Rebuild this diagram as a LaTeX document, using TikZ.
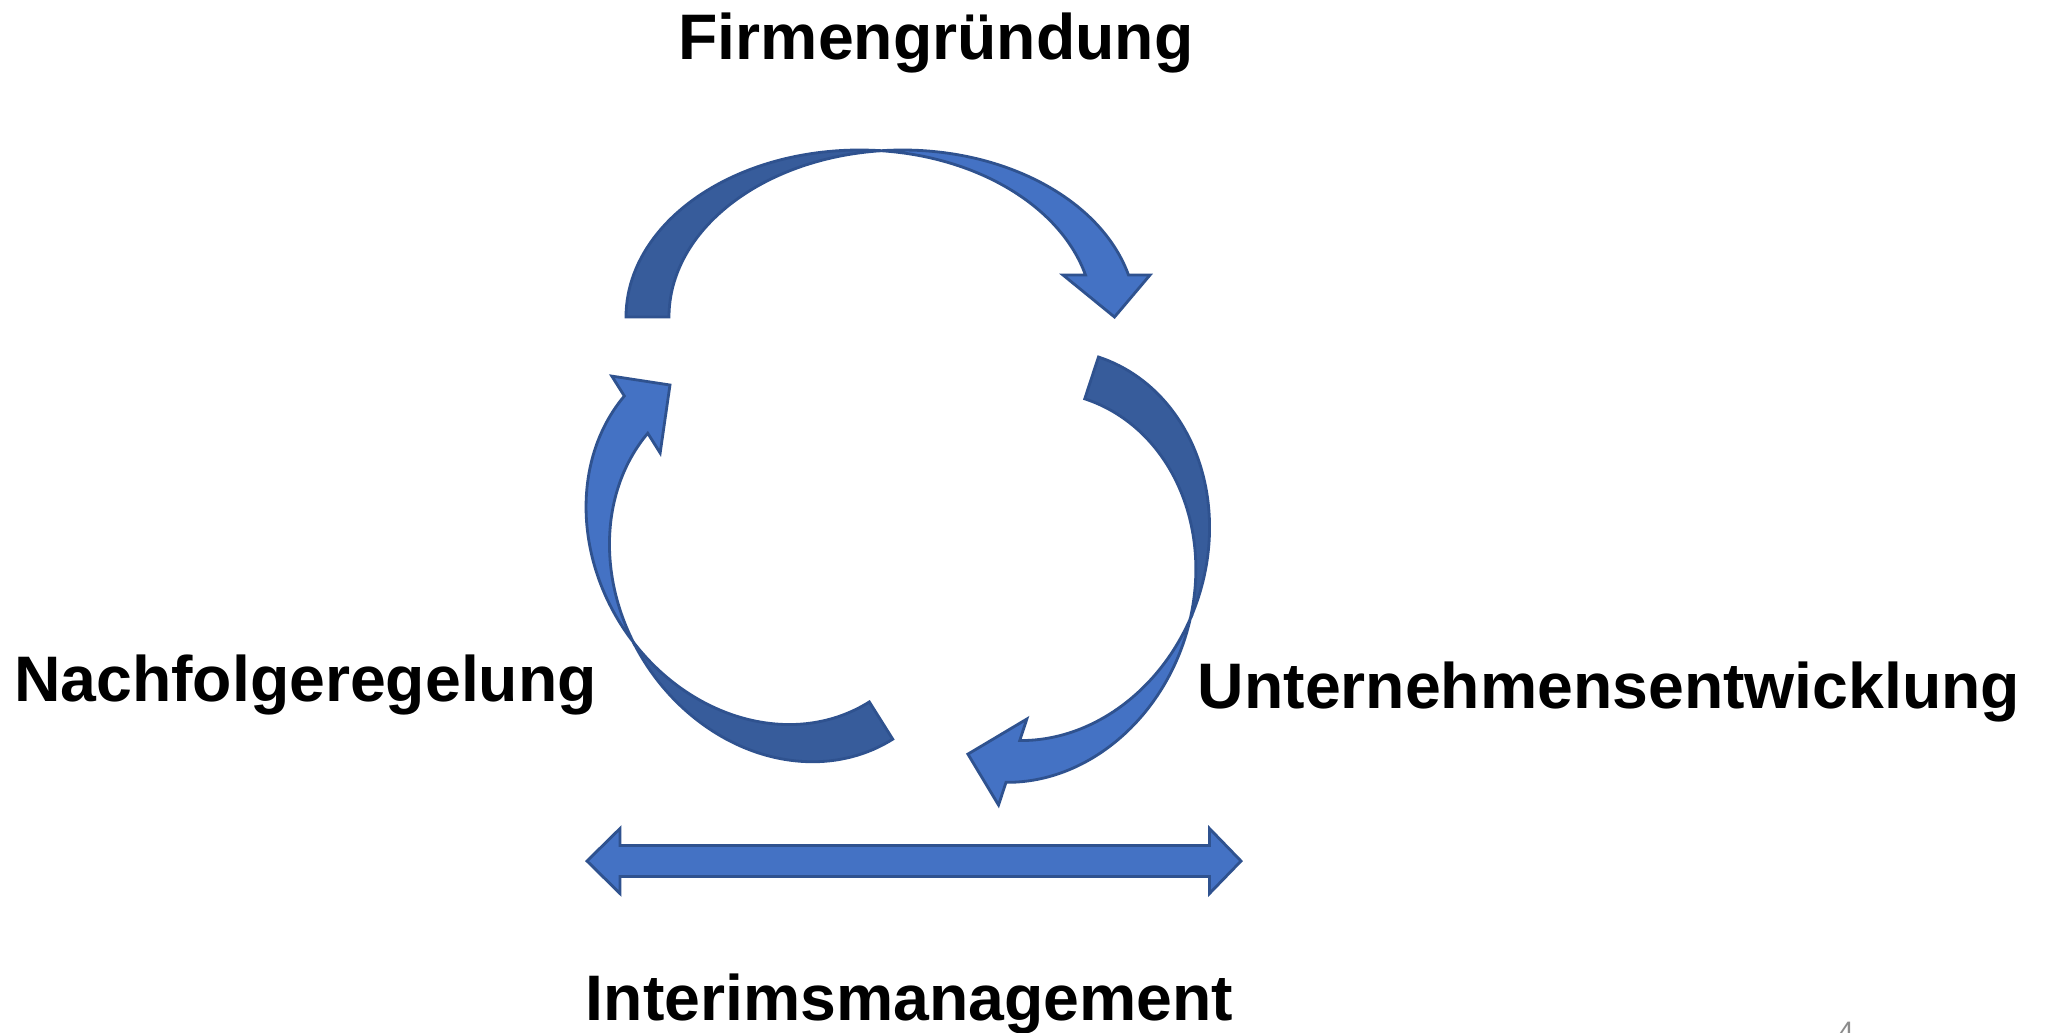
\documentclass[tikz,border=0pt]{standalone}
\usepackage{fontspec}
\setmainfont{Liberation Sans}
\definecolor{lightblue}{HTML}{4472C4}
\definecolor{darkblue}{HTML}{375C9B}
\definecolor{edgeblue}{HTML}{2F528F}
\definecolor{numgray}{HTML}{8C8C8C}
\tikzset{
  lightpart/.style={fill=lightblue, draw=edgeblue, line width=0.8pt, line join=miter},
  darkpart/.style={fill=darkblue, draw=edgeblue, line width=0.8pt, line join=miter},
  lbl/.style={font=\bfseries\fontsize{18.3}{22}\selectfont, inner sep=0pt, anchor=base, text=black}
}
% curved arrow: #1,#2 centre (px, y down), #3 rotation, #4 a, #5 b, #6 thickness, #7 head height, #8 inner barb, #9 outer barb
\newcommand\cvarrow[9]{%
  \pgfmathsetmacro\cvta{acos(#6/(2*#4))}%
  \pgfmathsetmacro\cvtb{180-\cvta}%
  \pgfmathsetmacro\cvth{asin(#7/#5)}%
  \pgfmathsetmacro\cvxr{#4*0.01}%
  \pgfmathsetmacro\cvyr{#5*0.01}%
  \pgfmathsetmacro\cvhd{#6/2}%
  \pgfmathsetmacro\cvyc{#5*sin(\cvta)}%
  \pgfmathsetmacro\cvxh{#4*cos(\cvth)}%
  \begin{scope}[shift={(#1,-#2)}, rotate=#3]
    \filldraw[darkpart] ({-#4-\cvhd},0)
      arc[start angle=180, end angle=\cvta, x radius=\cvxr cm, y radius=\cvyr cm]
      arc[start angle=\cvtb, end angle=180, x radius=\cvxr cm, y radius=\cvyr cm] -- cycle;
    \filldraw[lightpart] (0,\cvyc)
      arc[start angle=\cvtb, end angle=\cvth, x radius=\cvxr cm, y radius=\cvyr cm]
      -- ({#4+#9},#7) -- (#4,0) -- ({#4-#8},#7) -- ({\cvxh-\cvhd},#7)
      arc[start angle=\cvth, end angle=\cvta, x radius=\cvxr cm, y radius=\cvyr cm] -- cycle;
  \end{scope}}
\begin{document}
\begin{tikzpicture}[x=0.01cm, y=0.01cm]
  \useasboundingbox[fill=white] (0,0) rectangle (2046,-1032);
  % top arrow
  \cvarrow{881}{317}{0}{233.5}{167}{43}{42}{51.5}{35.5}
  % right arrow
  \cvarrow{1029.75}{566}{-108.2}{198}{170}{44}{45}{51.7}{38.8}
  % left arrow
  \cvarrow{775.5}{552.75}{122.17}{198.2}{169}{44}{44.5}{52.3}{38.5}
  % double arrow
  \filldraw[lightpart] (587,-861) -- (620,-828.5) -- (620,-845.5) -- (1209.5,-845.5)
    -- (1209.5,-828.5) -- (1241,-861) -- (1209.5,-893.5) -- (1209.5,-876.5)
    -- (620,-876.5) -- (620,-893.5) -- cycle;
  % labels
  \node[lbl] (firm) at (936,-59) {Firmengründung};
  \node[lbl] (nach) at (305.5,-701) {Nachfolgeregelung};
  \node[lbl] (unter) at (1609,-708) {Unternehmensentwicklung};
  \node[lbl] (inter) at (909.5,-1020) {Interimsmanagement};
  \node[font=\fontsize{8}{10}\selectfont, text=numgray, inner sep=0pt, anchor=base] (pnum) at (1846,-1041) {4};
\end{tikzpicture}
\end{document}
